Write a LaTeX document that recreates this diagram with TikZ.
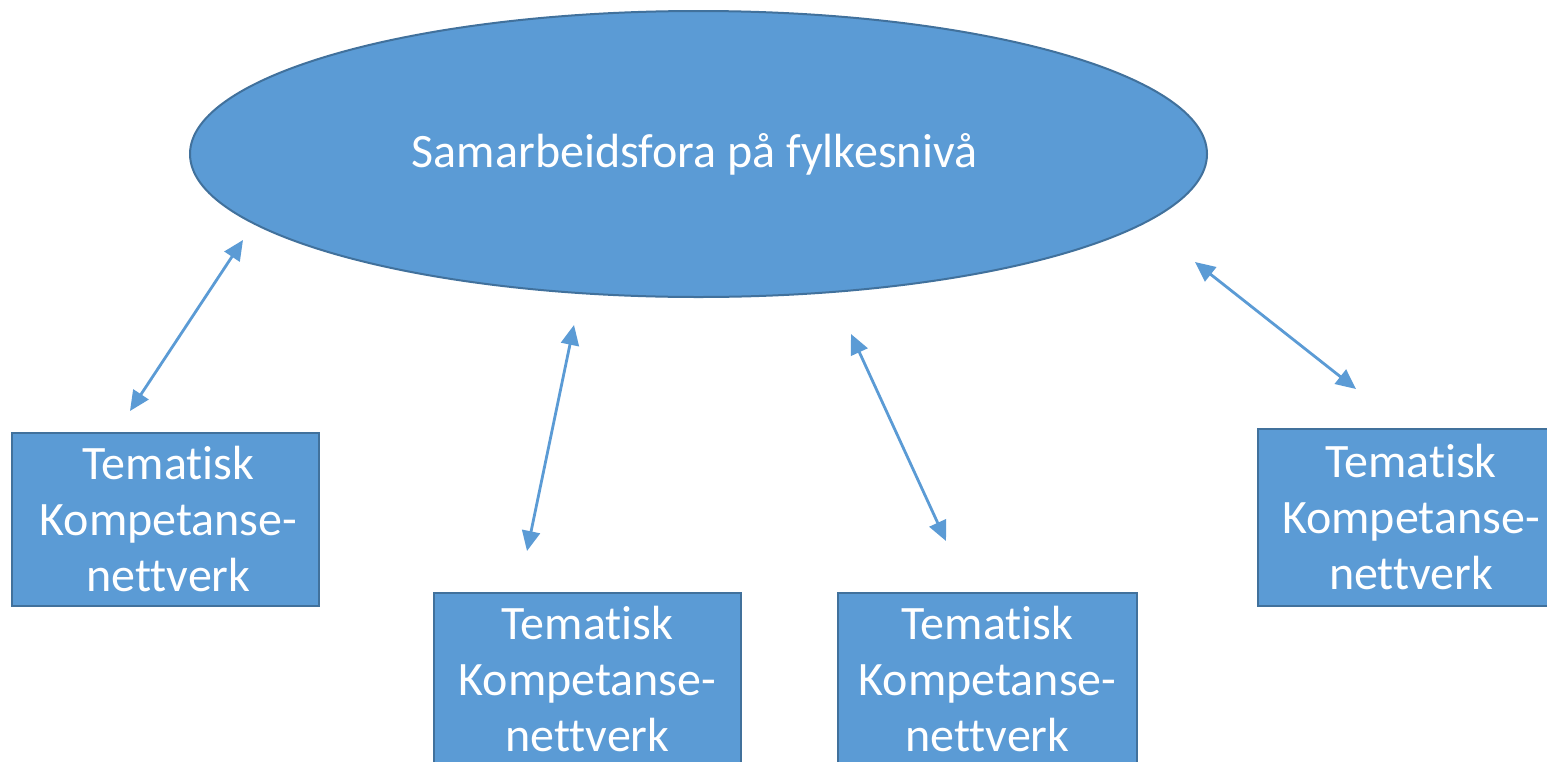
\documentclass[tikz,border=0pt]{standalone}
\usepackage{fontspec}
\setmainfont{Carlito}[Ligatures=NoCommon]
\usetikzlibrary{shapes.geometric,arrows.meta}
\definecolor{fillblue}{HTML}{5B9BD5}
\definecolor{edgeblue}{HTML}{41719C}
\tikzset{
  oval/.style={ellipse, draw=edgeblue, fill=fillblue, line width=2pt, inner sep=0pt,
    minimum width=1017pt, minimum height=286pt, text=white, font=\fontsize{48}{56}\selectfont},
  netbox/.style={rectangle, draw=edgeblue, fill=fillblue, line width=2pt, inner sep=0pt,
    text=white, align=center, font=\fontsize{48}{56}\selectfont},
  link/.style={draw=fillblue, line width=2.8pt,
    {Triangle[length=20pt,width=18pt]}-{Triangle[length=20pt,width=18pt]}}
}
\begin{document}
\begin{tikzpicture}[x=1pt,y=-1pt]
\clip (0,0) rectangle (1547,761);
\fill[white] (0,0) rectangle (1547,761);
\node[oval] (top) at (698.5,154) {\hspace*{-8pt}\raisebox{-4pt}{Samarbeidsfora på fylkesnivå}};
\node[netbox, minimum width=307pt, minimum height=173pt] (b1) at (165.5,519.5) {\hspace*{6pt}Tematisk\\\hspace*{6pt}Kompetanse-\\\hspace*{6pt}nettverk};
\node[netbox, minimum width=307pt, minimum height=173pt] (b2) at (587.5,679) {Tematisk\\Kompetanse-\\nettverk};
\node[netbox, minimum width=299pt, minimum height=173pt] (b3) at (987.5,679) {Tematisk\\Kompetanse-\\nettverk};
\node[netbox, minimum width=307pt, minimum height=177pt] (b4) at (1411,517.5) {Tematisk\\Kompetanse-\\nettverk};
\coordinate (a1s) at (243,240); \coordinate (a1e) at (130,411);
\coordinate (a2s) at (574,325); \coordinate (a2e) at (527,551);
\coordinate (a3s) at (851,334); \coordinate (a3e) at (946,541);
\coordinate (a4s) at (1195,262); \coordinate (a4e) at (1356,389);
\draw[link] (a1s) -- (a1e);
\draw[link] (a2s) -- (a2e);
\draw[link] (a3s) -- (a3e);
\draw[link] (a4s) -- (a4e);
\end{tikzpicture}
\end{document}
